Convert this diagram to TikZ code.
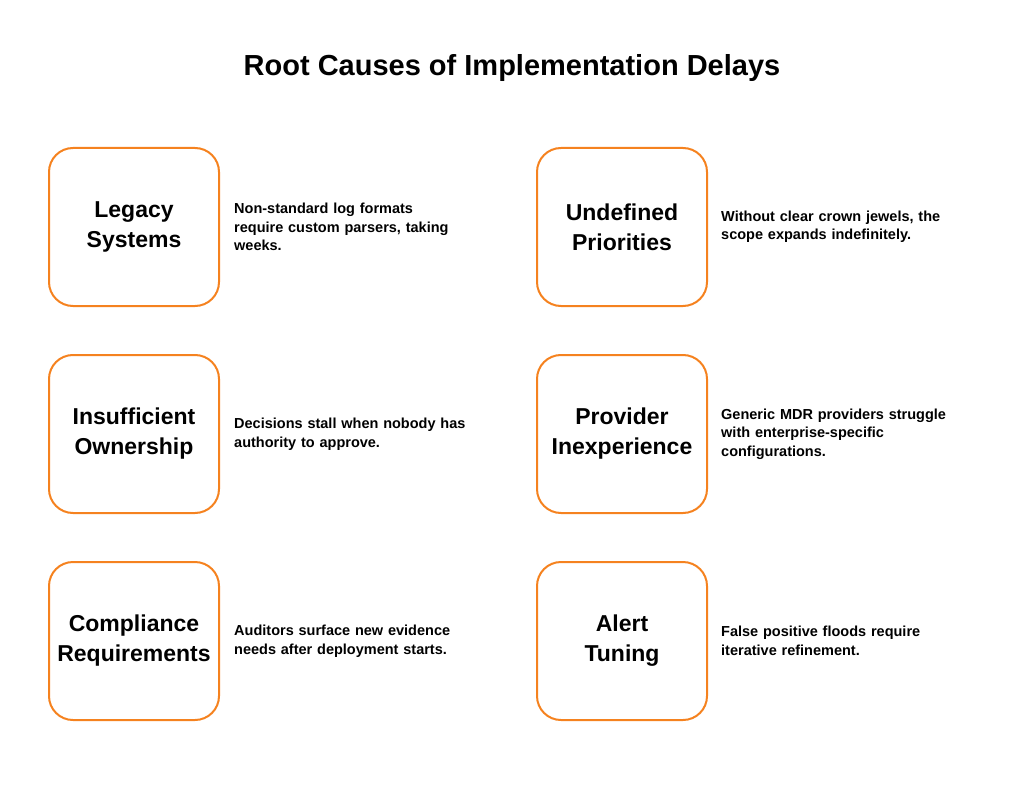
\documentclass[tikz,border=0pt]{standalone}
\usepackage{fontspec}
\setmainfont{Liberation Sans}
\begin{document}
\begin{tikzpicture}[x=1pt,y=-1pt,
  causebox/.style={draw=orange1,line width=2pt,rounded corners=24pt,minimum width=170pt,minimum height=158pt,inner sep=0pt,align=center,font=\bfseries\fontsize{23}{30}\selectfont},
  desc/.style={anchor=west,align=left,text width=250pt,inner sep=0pt,font=\bfseries\fontsize{14.5}{18.5}\selectfont}]
\definecolor{orange1}{HTML}{F5821F}
\useasboundingbox (0,0) rectangle (1024,794);
\node[font=\bfseries\fontsize{29}{34}\selectfont] (title) at (512,68) {Root Causes of Implementation Delays};
\node[causebox] (b1) at (134,227) {Legacy\\Systems};
\node[desc] (d1) at (234,227) {Non-standard log formats\\require custom parsers, taking\\weeks.};
\node[causebox] (b2) at (622,227) {Undefined\\Priorities};
\node[desc] (d2) at (721,227) {Without clear crown jewels, the\\scope expands indefinitely.};
\node[causebox] (b3) at (134,434) {Insufficient\\Ownership};
\node[desc] (d3) at (234,434) {Decisions stall when nobody has\\authority to approve.};
\node[causebox] (b4) at (622,434) {Provider\\Inexperience};
\node[desc] (d4) at (721,434) {Generic MDR providers struggle\\with enterprise-specific\\configurations.};
\node[causebox] (b5) at (134,641) {Compliance\\Requirements};
\node[desc] (d5) at (234,641) {Auditors surface new evidence\\needs after deployment starts.};
\node[causebox] (b6) at (622,641) {Alert\\Tuning};
\node[desc] (d6) at (721,641) {False positive floods require\\iterative refinement.};
\end{tikzpicture}
\end{document}
